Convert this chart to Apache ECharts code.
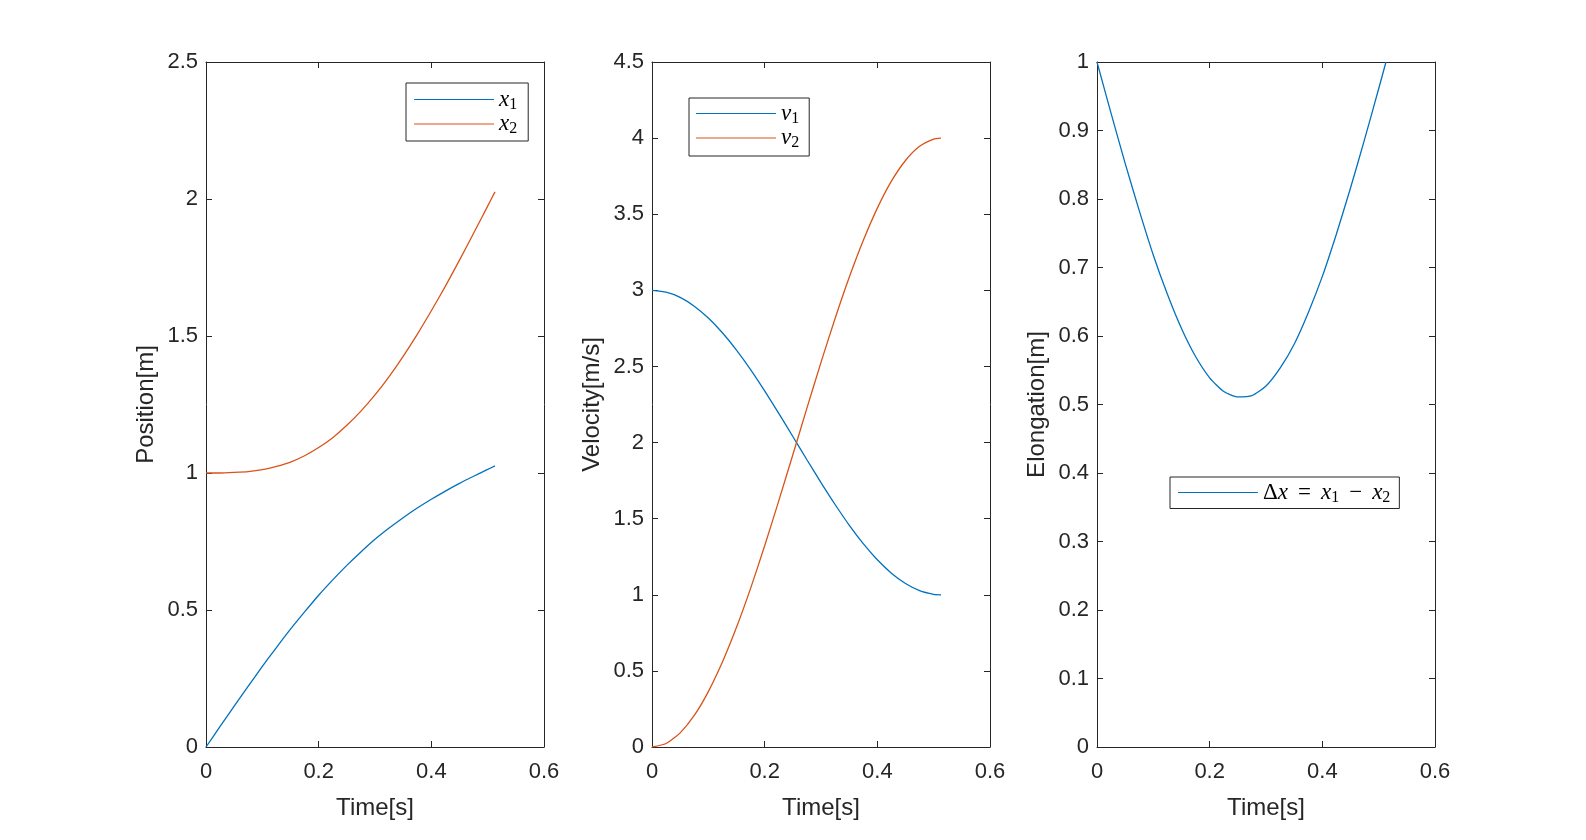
<!DOCTYPE html>
<html><head><meta charset="utf-8">
<script src="https://cdn.jsdelivr.net/npm/echarts@6/dist/echarts.min.js"></script>
<style>html,body{margin:0;padding:0;background:#fff}#c{width:1586px;height:840px}</style>
</head><body><div id="c"></div>
<script>
const time = [0, 0.025, 0.05, 0.075, 0.1, 0.125, 0.15, 0.175, 0.2, 0.225, 0.25, 0.275, 0.3, 0.325, 0.35, 0.375, 0.4, 0.425, 0.45, 0.475, 0.5, 0.513];
const x1 = [0, 0.075, 0.149, 0.222, 0.294, 0.363, 0.430, 0.493, 0.554, 0.610, 0.663, 0.712, 0.758, 0.799, 0.837, 0.872, 0.904, 0.934, 0.962, 0.988, 1.013, 1.026];
const x2 = [1, 1.000, 1.002, 1.005, 1.012, 1.024, 1.040, 1.063, 1.093, 1.129, 1.174, 1.226, 1.285, 1.352, 1.426, 1.506, 1.592, 1.682, 1.777, 1.875, 1.974, 2.026];
const v1 = [3, 2.988, 2.954, 2.896, 2.818, 2.721, 2.607, 2.479, 2.339, 2.192, 2.040, 1.887, 1.737, 1.593, 1.458, 1.336, 1.230, 1.142, 1.074, 1.027, 1.003, 1.000];
const v2 = [0, 0.023, 0.093, 0.207, 0.364, 0.558, 0.786, 1.042, 1.322, 1.617, 1.920, 2.226, 2.527, 2.815, 3.084, 3.327, 3.540, 3.717, 3.853, 3.946, 3.994, 4.000];
const dx = [1, 0.925, 0.852, 0.783, 0.718, 0.661, 0.611, 0.570, 0.539, 0.519, 0.511, 0.513, 0.527, 0.553, 0.588, 0.634, 0.687, 0.749, 0.816, 0.887, 0.961, 1.000];

const xName = 'Time[s]';
const yNames = ['Position[m]', 'Velocity[m/s]', 'Elongation[m]'];
const yMax = [2.5, 4.5, 1];
const yStep = [0.5, 0.5, 0.1];
const legendLabels = {
  x1: '{i|x}{s|1}', x2: '{i|x}{s|2}',
  v1: '{i|v}{s|1}', v2: '{i|v}{s|2}',
  dx: '{u|Δ}{i|x}{op|=}{i|x}{s|1}{op|−}{i|x}{s|2}'
};

const AX = '#262626';
const SANS = 'Liberation Sans, Arial, sans-serif';
const SERIF = 'Liberation Serif, Times New Roman, serif';
const BLUE = '#0072BD', ORANGE = '#D95319';
const gridLefts = [206, 652, 1097];

const grid = gridLefts.map(l => ({left: l, top: 62, width: 338, height: 685, containLabel: false, outerBoundsMode: 'none'}));
const lineStyle = {color: AX, width: 1};
const xAxis = [], yAxis = [];
for (let i = 0; i < 3; i++) {
  const baseX = {gridIndex: i, type: 'value', min: 0, max: 0.6, interval: 0.2,
    axisLine: {show: true, onZero: false, lineStyle}, axisTick: {show: true, inside: true, length: 6, lineStyle},
    splitLine: {show: false}};
  xAxis.push(Object.assign({}, baseX, {position: 'bottom',
    axisLabel: {show: true, fontSize: 22, color: AX, fontFamily: SANS, margin: 14},
    name: xName, nameLocation: 'middle', nameGap: 49,
    nameTextStyle: {fontSize: 24, color: AX, fontFamily: SANS}}));
  xAxis.push(Object.assign({}, baseX, {position: 'top', axisLabel: {show: false}}));
  const baseY = {gridIndex: i, type: 'value', min: 0, max: yMax[i], interval: yStep[i],
    axisLine: {show: true, onZero: false, lineStyle}, axisTick: {show: true, inside: true, length: 6, lineStyle},
    splitLine: {show: false}};
  yAxis.push(Object.assign({}, baseY, {position: 'left',
    axisLabel: {show: true, fontSize: 22, color: AX, fontFamily: SANS, margin: 8},
    name: yNames[i], nameLocation: 'middle', nameGap: 48, nameRotate: 90,
    nameTextStyle: {fontSize: 24, color: AX, fontFamily: SANS}}));
  yAxis.push(Object.assign({}, baseY, {position: 'right', axisLabel: {show: false}}));
}

const pairs = arr => time.map((t, k) => [t, arr[k]]);
const mk = (name, arr, color, gi) => ({
  name, type: 'line', xAxisIndex: 2 * gi, yAxisIndex: 2 * gi, data: pairs(arr),
  symbol: 'none', smooth: 0.2, lineStyle: {color, width: 1.3}, itemStyle: {color}, z: 3
});
const series = [
  mk('x1', x1, BLUE, 0), mk('x2', x2, ORANGE, 0),
  mk('v1', v1, BLUE, 1), mk('v2', v2, ORANGE, 1),
  mk('dx', dx, BLUE, 2)
];

const rich = {
  i: {fontFamily: SERIF, fontStyle: 'italic', fontSize: 23, lineHeight: 26, color: '#000'},
  u: {fontFamily: SERIF, fontSize: 23, lineHeight: 26, color: '#000'},
  op: {fontFamily: SERIF, fontSize: 23, lineHeight: 26, color: '#000', padding: [0, 10, 0, 10]},
  s: {fontFamily: SERIF, fontSize: 16, lineHeight: 16, verticalAlign: 'bottom', color: '#000'}
};
const legBase = {orient: 'vertical', icon: 'rect', itemWidth: 80, itemHeight: 1.2, itemGap: 0, selectedMode: false,
  borderColor: AX, borderWidth: 1, backgroundColor: '#fff', borderRadius: 0,
  formatter: n => legendLabels[n], textStyle: {rich}};
const legend = [
  Object.assign({}, legBase, {data: ['x1', 'x2'], left: 406, top: 83, padding: [5, 11, 4, 8], itemTextGap: 5}),
  Object.assign({}, legBase, {data: ['v1', 'v2'], left: 689, top: 98, padding: [4, 10, 5, 7], itemTextGap: 5}),
  Object.assign({}, legBase, {data: ['dx'], left: 1170, top: 477, padding: [4, 9, 3, 8], itemTextGap: 7})
];

const chart = echarts.init(document.getElementById('c'), null, {renderer: 'canvas'});
chart.setOption({animation: false, backgroundColor: '#fff', grid, xAxis, yAxis, series, legend});
</script></body></html>
